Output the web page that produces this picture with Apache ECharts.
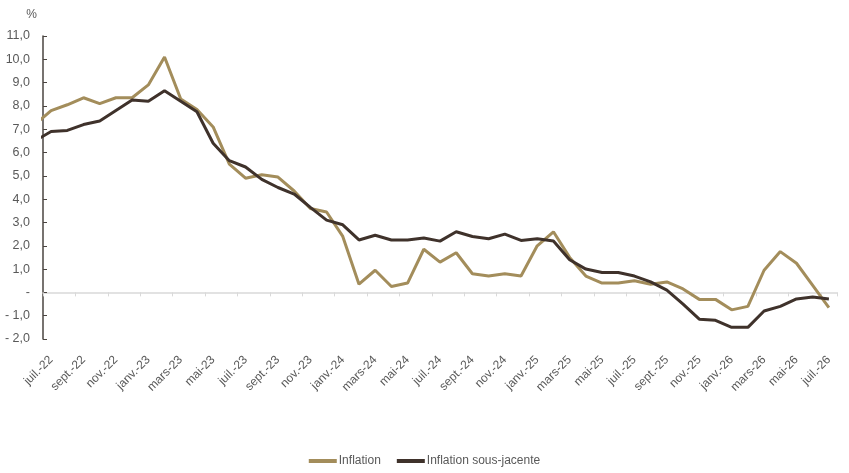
<!DOCTYPE html>
<html>
<head>
<meta charset="utf-8">
<script src="https://cdn.jsdelivr.net/npm/echarts@6/dist/echarts.min.js"></script>
<style>
  html, body { margin: 0; padding: 0; background: #fff; }
  #chart { width: 849px; height: 473px; }
</style>
</head>
<body>
<div id="chart"></div>
<script>
// mois (le premier, juin-22, tombe hors du cadre et n'est visible que par le bout de trait)
var months = [
    'juin-22', 'juil.-22', 'août-22', 'sept.-22', 'oct.-22', 'nov.-22', 'déc.-22',
    'janv.-23', 'févr.-23', 'mars-23', 'avr.-23', 'mai-23', 'juin-23', 'juil.-23', 'août-23', 'sept.-23', 'oct.-23', 'nov.-23', 'déc.-23',
    'janv.-24', 'févr.-24', 'mars-24', 'avr.-24', 'mai-24', 'juin-24', 'juil.-24', 'août-24', 'sept.-24', 'oct.-24', 'nov.-24', 'déc.-24',
    'janv.-25', 'févr.-25', 'mars-25', 'avr.-25', 'mai-25', 'juin-25', 'juil.-25', 'août-25', 'sept.-25', 'oct.-25', 'nov.-25', 'déc.-25',
    'janv.-26', 'févr.-26', 'mars-26', 'avr.-26', 'mai-26', 'juin-26', 'juil.-26'
];

var inflation = [
    7.2,
    7.8, 8.05, 8.35, 8.1, 8.35, 8.35,
    8.9, 10.1, 8.3, 7.85, 7.1, 5.5, 4.9, 5.05, 4.95, 4.35, 3.6, 3.45,
    2.4, 0.35, 0.95, 0.25, 0.4, 1.85, 1.3, 1.7, 0.8, 0.7, 0.8, 0.7,
    2.0, 2.6, 1.5, 0.7, 0.4, 0.4, 0.5, 0.35, 0.45, 0.15, -0.3, -0.3,
    -0.75, -0.6, 0.95, 1.75, 1.25, 0.3, -0.65
];

var inflationSousJacente = [
    6.5,
    6.9, 6.95, 7.2, 7.35, 7.8, 8.25,
    8.2, 8.65, 8.2, 7.75, 6.4, 5.65, 5.38, 4.85, 4.5, 4.22, 3.65, 3.1,
    2.9, 2.25, 2.45, 2.25, 2.25, 2.33, 2.2, 2.6, 2.4, 2.3, 2.5, 2.23,
    2.3, 2.2, 1.4, 1.0, 0.85, 0.85, 0.7, 0.45, 0.1, -0.5, -1.15, -1.2,
    -1.5, -1.5, -0.8, -0.6, -0.28, -0.2, -0.28
];

var font = "'Liberation Sans Narrow', 'Liberation Sans', sans-serif";
var grey = '#595959';

function everyOther(index) {
    return index % 2 === 1;
}

function fmtY(v) {
    if (v === 0) return '-';
    var s = Math.abs(v).toFixed(1).replace('.', ',');
    return v < 0 ? '- ' + s : s;
}

var myChart = echarts.init(document.getElementById('chart'));
var option = {
    animation: false,
    grid: {
        left: 43,
        right: 12,
        top: 36,
        bottom: 134
    },
    legend: {
        top: 450,
        left: 'center',
        icon: 'rect',
        itemWidth: 28,
        itemHeight: 4,
        itemGap: 16,
        textStyle: {
            color: grey,
            fontFamily: font,
            fontSize: 12,
            padding: [0, 0, 0, -3]
        },
        data: ['Inflation', 'Inflation sous-jacente']
    },
    xAxis: [{
        type: 'category',
        data: months,
        min: 1,
        boundaryGap: true,
        axisLine: { show: false, onZero: false },
        axisTick: { show: false },
        splitLine: { show: false },
        axisLabel: {
            interval: everyOther,
            rotate: 45,
            margin: 19,
            color: grey,
            fontFamily: font,
            fontSize: 12
        }
    }, {
        // ligne du zéro avec ses graduations
        type: 'category',
        data: months,
        min: 1,
        boundaryGap: true,
        position: 'bottom',
        axisLine: {
            show: true,
            onZero: true,
            lineStyle: { color: '#d9d9d9', width: 1.5 }
        },
        axisTick: {
            show: true,
            interval: everyOther,
            length: 4,
            lineStyle: { color: '#d9d9d9', width: 1 }
        },
        axisLabel: { show: false },
        splitLine: { show: false }
    }],
    yAxis: {
        type: 'value',
        min: -2,
        max: 11,
        interval: 1,
        name: '%',
        nameLocation: 'end',
        nameGap: 15,
        nameTextStyle: {
            color: grey,
            fontFamily: font,
            fontSize: 12,
            align: 'right',
            padding: [0, 6, 0, 0]
        },
        axisLine: {
            show: true,
            lineStyle: { color: '#4a4440', width: 1.5 }
        },
        axisTick: {
            show: true,
            inside: true,
            length: 4,
            lineStyle: { color: '#4a4440' }
        },
        splitLine: { show: false },
        axisLabel: {
            formatter: fmtY,
            margin: 13,
            color: grey,
            fontFamily: font,
            fontSize: 12.5
        }
    },
    series: [{
        name: 'Inflation',
        type: 'line',
        data: inflation,
        showSymbol: false,
        symbol: 'none',
        clip: true,
        itemStyle: { color: '#a38d5b' },
        lineStyle: { color: '#a38d5b', width: 3 }
    }, {
        name: 'Inflation sous-jacente',
        type: 'line',
        data: inflationSousJacente,
        showSymbol: false,
        symbol: 'none',
        clip: true,
        itemStyle: { color: '#3f322b' },
        lineStyle: { color: '#3f322b', width: 3 }
    }]
};
myChart.setOption(option);
</script>
</body>
</html>
